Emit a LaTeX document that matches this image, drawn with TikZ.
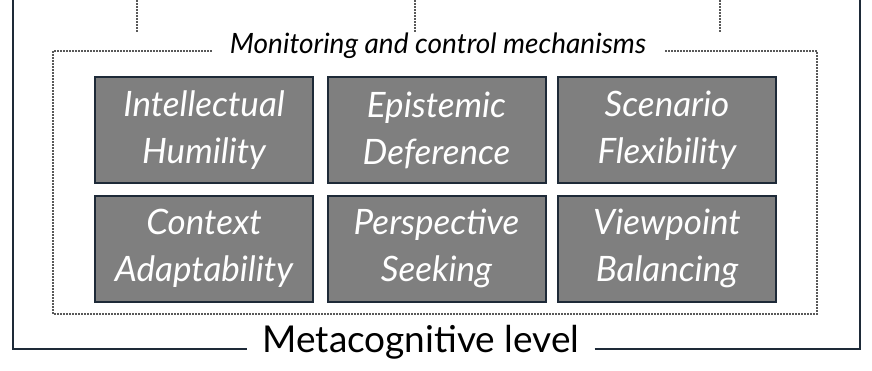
\documentclass[tikz,border=0pt]{standalone}
\usepackage{fontspec}
\setmainfont{Lato}
\begin{document}
\begin{tikzpicture}[x=1pt,y=-1pt,
  frame/.style={draw=navy,line width=2.4pt},
  dotline/.style={draw=gray!70!black,line width=1.7pt,dash pattern=on 1.5pt off 1.5pt},
  card/.style={draw=navy,line width=2pt,fill=boxgray,text=white,minimum width=218pt,minimum height=106pt,inner sep=0pt,align=center,font=\fontsize{35}{47}\selectfont\itshape},
]
\definecolor{navy}{HTML}{1E2A38}
\definecolor{boxgray}{HTML}{7F7F7F}
\useasboundingbox (0,0) rectangle (872,370);
% outer frame
\node[inner xsep=15pt] (meta) at (421,342) {\fontsize{37}{42}\selectfont Metacognitive level};
\coordinate (tl) at (13,0);
\coordinate (tr) at (860,0);
\draw[frame] (tl) -- (13,349) -- (meta.west|-0,349);
\draw[frame] (meta.east|-0,349) -- (860,349) -- (tr);
% top dotted links
\coordinate (d1a) at (137,0); \coordinate (d1b) at (137,32);
\coordinate (d2a) at (415,0); \coordinate (d2b) at (415,32);
\coordinate (d3a) at (720,0); \coordinate (d3b) at (720,32);
\draw[dotline] (d1a) -- (d1b);
\draw[dotline] (d2a) -- (d2b);
\draw[dotline] (d3a) -- (d3b);
% inner dotted frame
\node[inner xsep=18pt] (mon) at (438,46) {\fontsize{28}{31}\selectfont\itshape Monitoring and control mechanisms};
\draw[dotline] (mon.west|-0,51) -- (53,51) -- (53,314) -- (817,314) -- (817,51) -- (mon.east|-0,51);
% cards
\node[card] (c1) at (204,130) {Intellectual\\Humility};
\node[card] (c2) at (436.5,130) {Epistemic\\Deference};
\node[card] (c3) at (667,130) {Scenario\\Flexibility};
\node[card] (c4) at (204,248.5) {Context\\Adaptability};
\node[card] (c5) at (436.5,248.5) {Perspective\\Seeking};
\node[card] (c6) at (667,248.5) {Viewpoint\\Balancing};
\end{tikzpicture}
\end{document}
